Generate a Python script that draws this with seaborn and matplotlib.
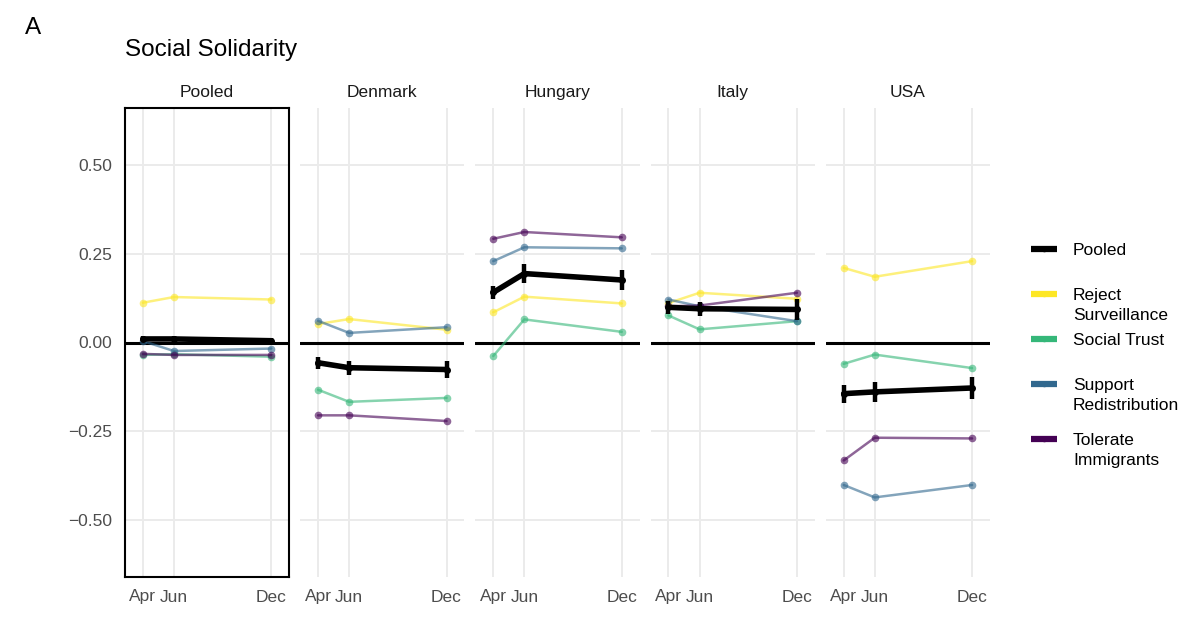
import numpy as np
import pandas as pd
import seaborn as sns
import matplotlib.pyplot as plt
from matplotlib.lines import Line2D

# panels, waves and outcomes
countries = ["Pooled", "Denmark", "Hungary", "Italy", "USA"]
wave_dates = ["2020-04-15", "2020-06-13", "2020-12-15"]
wave_labels = ["Apr", "Jun", "Dec"]
outcomes = ["Reject Surveillance", "Social Trust", "Support Redistribution", "Tolerate Immigrants"]
palette = ["#FDE725", "#35B779", "#31688E", "#440154"]

# one row per country (Pooled, Denmark, Hungary, Italy, USA), one value per wave
reject_surveillance = [
    [0.112, 0.128, 0.121],
    [0.052, 0.066, 0.036],
    [0.085, 0.129, 0.110],
    [0.111, 0.140, 0.123],
    [0.210, 0.185, 0.229],
]
social_trust = [
    [-0.035, -0.033, -0.040],
    [-0.133, -0.167, -0.156],
    [-0.038, 0.065, 0.030],
    [0.076, 0.037, 0.060],
    [-0.060, -0.034, -0.072],
]
support_redistribution = [
    [0.004, -0.024, -0.017],
    [0.061, 0.027, 0.043],
    [0.229, 0.268, 0.265],
    [0.121, 0.102, 0.060],
    [-0.401, -0.436, -0.401],
]
tolerate_immigrants = [
    [-0.032, -0.035, -0.035],
    [-0.205, -0.205, -0.221],
    [0.292, 0.311, 0.296],
    [0.102, 0.104, 0.140],
    [-0.332, -0.268, -0.270],
]
pooled_est = [
    [0.010, 0.010, 0.005],
    [-0.057, -0.071, -0.076],
    [0.141, 0.194, 0.176],
    [0.099, 0.095, 0.093],
    [-0.144, -0.139, -0.128],
]
pooled_err = [
    [0.008, 0.009, 0.009],
    [0.017, 0.020, 0.023],
    [0.019, 0.026, 0.028],
    [0.019, 0.020, 0.029],
    [0.025, 0.028, 0.030],
]

legend_labels = ["Pooled", "Reject\nSurveillance", "Social Trust", "Support\nRedistribution", "Tolerate\nImmigrants"]
legend_colors = ["black"] + palette

dates = pd.to_datetime(wave_dates)
series = [reject_surveillance, social_trust, support_redistribution, tolerate_immigrants]
rows = []
for name, vals in zip(outcomes, series):
    for ci, c in enumerate(countries):
        for wi, d in enumerate(dates):
            rows.append({"country": c, "date": d, "outcome": name, "value": vals[ci][wi]})
df = pd.DataFrame(rows)

prow = []
for ci, c in enumerate(countries):
    for wi, d in enumerate(dates):
        prow.append({"country": c, "date": d, "est": pooled_est[ci][wi], "err": pooled_err[ci][wi]})
pdf = pd.DataFrame(prow)

sns.set_theme(style="white")
plt.rcParams["font.family"] = ["Liberation Sans", "DejaVu Sans"]
plt.rcParams["text.color"] = "black"

fig, axes = plt.subplots(1, 5, figsize=(12, 6.44), dpi=100, sharey=True)
fig.subplots_adjust(left=125 / 1200, right=990 / 1200, top=1 - 108 / 644,
                    bottom=1 - 577 / 644, wspace=0.067)

pad = pd.Timedelta(days=34)
for ax, c in zip(axes, countries):
    ax.set_facecolor("white")
    for v in [-0.5, -0.25, 0.25, 0.5]:
        ax.axhline(v, color="#EBEBEB", lw=1.4, zorder=0)
    for d in dates:
        ax.axvline(d, color="#EBEBEB", lw=1.4, zorder=0)
    ax.axhline(0, color="black", lw=2.2, zorder=1)

    sub = df[df["country"] == c]
    sns.lineplot(data=sub, x="date", y="value", hue="outcome", hue_order=outcomes,
                 palette=palette, alpha=0.6, lw=1.8, marker="o", markersize=5.5,
                 markeredgewidth=0, legend=False, ax=ax, zorder=2)

    ps = pdf[pdf["country"] == c]
    ax.errorbar(ps["date"], ps["est"], yerr=ps["err"], color="black", lw=4,
                elinewidth=3.2, capsize=0, marker="o", markersize=4, zorder=3)

    ax.set_xlim(dates[0] - pad, dates[-1] + pad)
    ax.set_ylim(-0.66, 0.66)
    ax.set_xticks(dates)
    ax.set_xticklabels(wave_labels)
    ax.set_xlabel("")
    ax.set_ylabel("")
    ax.set_title(c, fontsize=12.5, pad=8, color="#1A1A1A")
    ax.tick_params(axis="x", length=0, labelsize=12.5, labelcolor="#4D4D4D", pad=9)
    ax.tick_params(axis="y", length=0, labelsize=12.5, labelcolor="#4D4D4D", pad=9)
    for s in ax.spines.values():
        s.set_visible(c == "Pooled")
        s.set_color("black")
        s.set_linewidth(1.5)

axes[0].set_yticks([-0.5, -0.25, 0, 0.25, 0.5])
axes[0].set_yticklabels(["\u22120.50", "\u22120.25", "0.00", "0.25", "0.50"])

# legend drawn on the figure: key aligned with the first text line
key_y = [249, 294, 339, 384, 439]
for y, col, lab in zip(key_y, legend_colors, legend_labels):
    yf = 1 - y / 644
    fig.add_artist(Line2D([1031 / 1200, 1057 / 1200], [yf, yf], color=col, lw=4.5,
                          solid_capstyle="butt", transform=fig.transFigure))
    fig.add_artist(Line2D([1044 / 1200], [yf], color=col, marker="o", markersize=3,
                          transform=fig.transFigure))
    fig.text(1073 / 1200, 1 - (y - 6) / 644, lab, fontsize=12.5, va="top", ha="left",
             linespacing=1.4)

fig.text(125 / 1200, 1 - 50 / 644, "Social Solidarity", fontsize=17.5, va="center", ha="left")
fig.text(25 / 1200, 1 - 28 / 644, "A", fontsize=17.5, va="center", ha="left")

fig.savefig("out.png", dpi=100, facecolor="white")
